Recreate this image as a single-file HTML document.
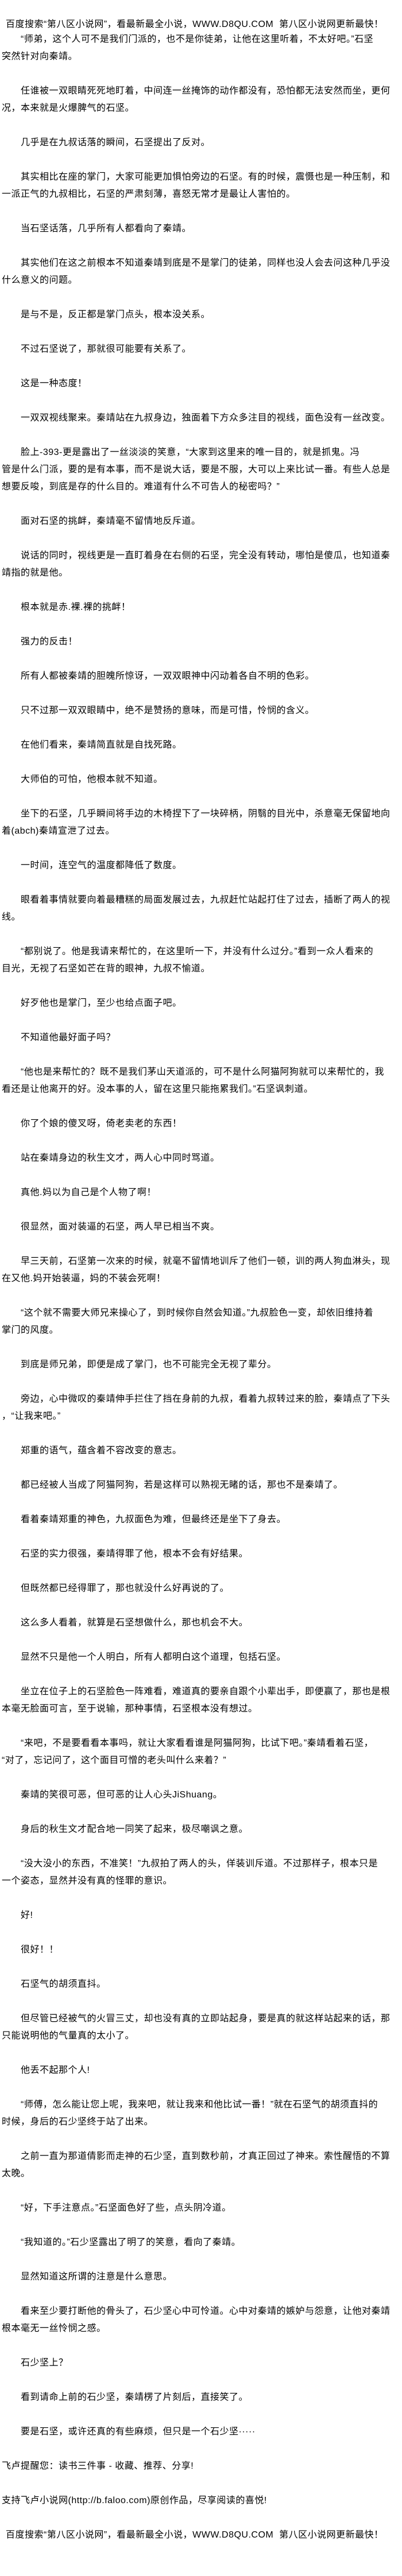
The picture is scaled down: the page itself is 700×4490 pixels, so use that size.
<!DOCTYPE html>
<html><head><meta charset="utf-8">
<style>
html,body{margin:0;padding:0;background:#fff;}
body{width:700px;height:4490px;position:relative;overflow:hidden;color:#000;
font-family:"Liberation Sans","Noto Sans CJK SC","WenQuanYi Zen Hei",sans-serif;font-size:16px;letter-spacing:0.5px;}
#hdr{position:absolute;left:10px;top:28px;line-height:30px;white-space:nowrap;}
#txt{position:absolute;left:3px;top:54px;width:697px;}
#txt div{height:30px;line-height:30px;white-space:nowrap;}
#txt .i{padding-left:33px;}
</style></head><body>
<div id="hdr">百度搜索“第八区小说网”，看最新最全小说，WWW.D8QU.COM&nbsp;&nbsp;第八区小说网更新最快！</div>
<div id="txt">
<div class="i">“师弟，这个人可不是我们门派的，也不是你徒弟，让他在这里听着，不太好吧。”石坚</div>
<div>突然针对向秦靖。</div><div></div>
<div class="i">任谁被一双眼睛死死地盯着，中间连一丝掩饰的动作都没有，恐怕都无法安然而坐，更何</div>
<div>况，本来就是火爆脾气的石坚。</div><div></div>
<div class="i">几乎是在九叔话落的瞬间，石坚提出了反对。</div><div></div>
<div class="i">其实相比在座的掌门，大家可能更加惧怕旁边的石坚。有的时候，震慑也是一种压制，和</div>
<div>一派正气的九叔相比，石坚的严肃刻薄，喜怒无常才是最让人害怕的。</div><div></div>
<div class="i">当石坚话落，几乎所有人都看向了秦靖。</div><div></div>
<div class="i">其实他们在这之前根本不知道秦靖到底是不是掌门的徒弟，同样也没人会去问这种几乎没</div>
<div>什么意义的问题。</div><div></div>
<div class="i">是与不是，反正都是掌门点头，根本没关系。</div><div></div>
<div class="i">不过石坚说了，那就很可能要有关系了。</div><div></div>
<div class="i">这是一种态度！</div><div></div>
<div class="i">一双双视线聚来。秦靖站在九叔身边，独面着下方众多注目的视线，面色没有一丝改变。</div><div></div>
<div class="i">脸上-393-更是露出了一丝淡淡的笑意，“大家到这里来的唯一目的，就是抓鬼。冯</div>
<div>管是什么门派，要的是有本事，而不是说大话，要是不服，大可以上来比试一番。有些人总是</div>
<div>想要反唆，到底是存的什么目的。难道有什么不可告人的秘密吗？”</div><div></div>
<div class="i">面对石坚的挑衅，秦靖毫不留情地反斥道。</div><div></div>
<div class="i">说话的同时，视线更是一直盯着身在右侧的石坚，完全没有转动，哪怕是傻瓜，也知道秦</div>
<div>靖指的就是他。</div><div></div>
<div class="i">根本就是赤.裸.裸的挑衅！</div><div></div>
<div class="i">强力的反击！</div><div></div>
<div class="i">所有人都被秦靖的胆魄所惊讶，一双双眼神中闪动着各自不明的色彩。</div><div></div>
<div class="i">只不过那一双双眼睛中，绝不是赞扬的意味，而是可惜，怜悯的含义。</div><div></div>
<div class="i">在他们看来，秦靖简直就是自找死路。</div><div></div>
<div class="i">大师伯的可怕，他根本就不知道。</div><div></div>
<div class="i">坐下的石坚，几乎瞬间将手边的木椅捏下了一块碎柄，阴翳的目光中，杀意毫无保留地向</div>
<div>着(abch)秦靖宣泄了过去。</div><div></div>
<div class="i">一时间，连空气的温度都降低了数度。</div><div></div>
<div class="i">眼看着事情就要向着最糟糕的局面发展过去，九叔赶忙站起打住了过去，插断了两人的视</div>
<div>线。</div><div></div>
<div class="i">“都别说了。他是我请来帮忙的，在这里听一下，并没有什么过分。”看到一众人看来的</div>
<div>目光，无视了石坚如芒在背的眼神，九叔不愉道。</div><div></div>
<div class="i">好歹他也是掌门，至少也给点面子吧。</div><div></div>
<div class="i">不知道他最好面子吗？</div><div></div>
<div class="i">“他也是来帮忙的？既不是我们茅山天道派的，可不是什么阿猫阿狗就可以来帮忙的，我</div>
<div>看还是让他离开的好。没本事的人，留在这里只能拖累我们。”石坚讽刺道。</div><div></div>
<div class="i">你了个娘的傻叉呀，倚老卖老的东西！</div><div></div>
<div class="i">站在秦靖身边的秋生文才，两人心中同时骂道。</div><div></div>
<div class="i">真他.妈以为自己是个人物了啊！</div><div></div>
<div class="i">很显然，面对装逼的石坚，两人早已相当不爽。</div><div></div>
<div class="i">早三天前，石坚第一次来的时候，就毫不留情地训斥了他们一顿，训的两人狗血淋头，现</div>
<div>在又他.妈开始装逼，妈的不装会死啊！</div><div></div>
<div class="i">“这个就不需要大师兄来操心了，到时候你自然会知道。”九叔脸色一变，却依旧维持着</div>
<div>掌门的风度。</div><div></div>
<div class="i">到底是师兄弟，即便是成了掌门，也不可能完全无视了辈分。</div><div></div>
<div class="i">旁边，心中微叹的秦靖伸手拦住了挡在身前的九叔，看着九叔转过来的脸，秦靖点了下头</div>
<div>，“让我来吧。”</div><div></div>
<div class="i">郑重的语气，蕴含着不容改变的意志。</div><div></div>
<div class="i">都已经被人当成了阿猫阿狗，若是这样可以熟视无睹的话，那也不是秦靖了。</div><div></div>
<div class="i">看着秦靖郑重的神色，九叔面色为难，但最终还是坐下了身去。</div><div></div>
<div class="i">石坚的实力很强，秦靖得罪了他，根本不会有好结果。</div><div></div>
<div class="i">但既然都已经得罪了，那也就没什么好再说的了。</div><div></div>
<div class="i">这么多人看着，就算是石坚想做什么，那也机会不大。</div><div></div>
<div class="i">显然不只是他一个人明白，所有人都明白这个道理，包括石坚。</div><div></div>
<div class="i">坐立在位子上的石坚脸色一阵难看，难道真的要亲自跟个小辈出手，即便赢了，那也是根</div>
<div>本毫无脸面可言，至于说输，那种事情，石坚根本没有想过。</div><div></div>
<div class="i">“来吧，不是要看看本事吗，就让大家看看谁是阿猫阿狗，比试下吧。”秦靖看着石坚，</div>
<div>“对了，忘记问了，这个面目可憎的老头叫什么来着？”</div><div></div>
<div class="i">秦靖的笑很可恶，但可恶的让人心头JiShuang。</div><div></div>
<div class="i">身后的秋生文才配合地一同笑了起来，极尽嘲讽之意。</div><div></div>
<div class="i">“没大没小的东西，不准笑！”九叔拍了两人的头，佯装训斥道。不过那样子，根本只是</div>
<div>一个姿态，显然并没有真的怪罪的意识。</div><div></div>
<div class="i">好!</div><div></div>
<div class="i">很好！！</div><div></div>
<div class="i">石坚气的胡须直抖。</div><div></div>
<div class="i">但尽管已经被气的火冒三丈，却也没有真的立即站起身，要是真的就这样站起来的话，那</div>
<div>只能说明他的气量真的太小了。</div><div></div>
<div class="i">他丢不起那个人!</div><div></div>
<div class="i">“师傅，怎么能让您上呢，我来吧，就让我来和他比试一番！”就在石坚气的胡须直抖的</div>
<div>时候，身后的石少坚终于站了出来。</div><div></div>
<div class="i">之前一直为那道倩影而走神的石少坚，直到数秒前，才真正回过了神来。索性醒悟的不算</div>
<div>太晚。</div><div></div>
<div class="i">“好，下手注意点。”石坚面色好了些，点头阴冷道。</div><div></div>
<div class="i">“我知道的。”石少坚露出了明了的笑意，看向了秦靖。</div><div></div>
<div class="i">显然知道这所谓的注意是什么意思。</div><div></div>
<div class="i">看来至少要打断他的骨头了，石少坚心中可怜道。心中对秦靖的嫉妒与怨意，让他对秦靖</div>
<div>根本毫无一丝怜悯之感。</div><div></div>
<div class="i">石少坚上？</div><div></div>
<div class="i">看到请命上前的石少坚，秦靖楞了片刻后，直接笑了。</div><div></div>
<div class="i">要是石坚，或许还真的有些麻烦，但只是一个石少坚·····</div><div></div>
<div>飞卢提醒您：读书三件事 - 收藏、推荐、分享!</div><div></div>
<div>支持飞卢小说网(http://b.faloo.com)原创作品，尽享阅读的喜悦!</div><div></div>
<div style="padding-left:7px">百度搜索“第八区小说网”，看最新最全小说，WWW.D8QU.COM&nbsp;&nbsp;第八区小说网更新最快！</div>
</div>
</body></html>
